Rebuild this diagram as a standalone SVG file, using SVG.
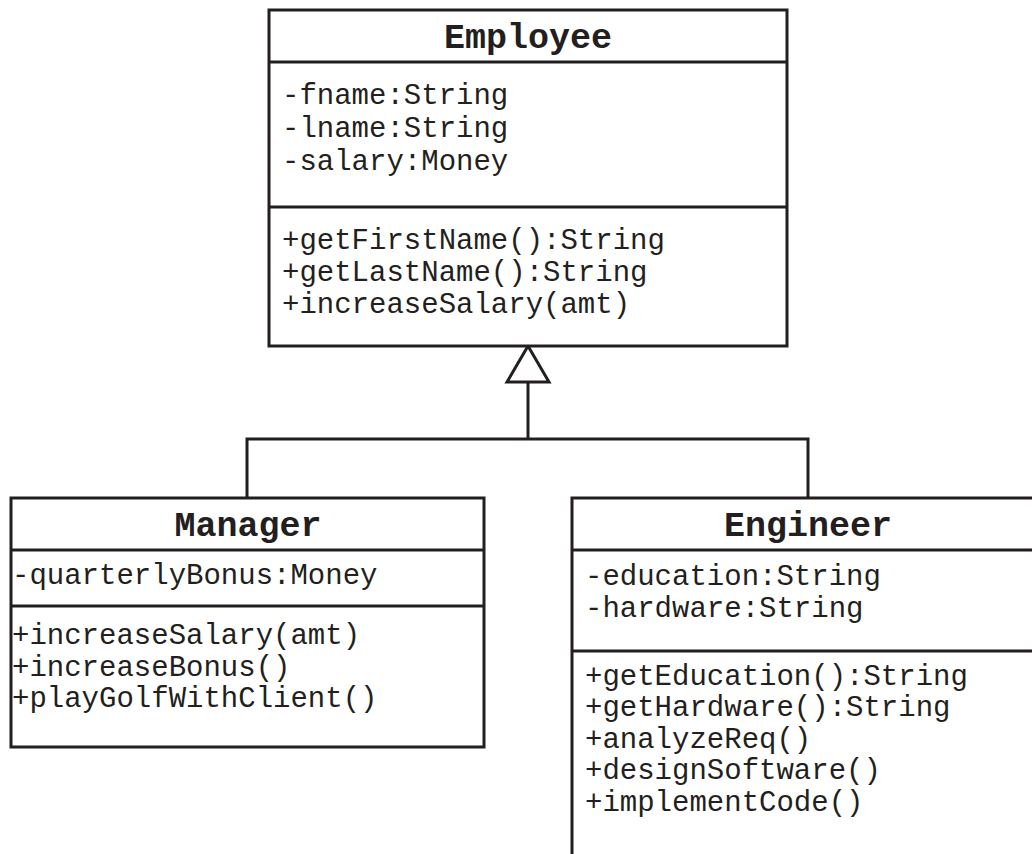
<svg xmlns="http://www.w3.org/2000/svg" width="1032" height="854" viewBox="0 0 1032 854">
  <style>
    .box { fill: #ffffff; stroke: #231f20; stroke-width: 3; }
    .div { stroke: #231f20; stroke-width: 3; }
    .title { font-family: "Liberation Mono", "Courier New", monospace; font-weight: bold; font-size: 35px; fill: #231f20; text-anchor: middle; }
    .mem { font-family: "Liberation Mono", "Courier New", monospace; font-size: 29px; fill: #231f20; }
    .conn { fill: none; stroke: #231f20; stroke-width: 3; }
  </style>
  <rect width="1032" height="854" fill="#ffffff"/>

  <!-- generalization: Manager and Engineer inherit from Employee -->
  <g id="connectors">
    <polyline class="conn" points="247,498 247,439 808,439 808,498"/>
    <line class="conn" x1="528" y1="439" x2="528" y2="382"/>
    <polygon class="conn" fill="#ffffff" points="528,346 507,382 549,382"/>
  </g>

  <g id="employee">
    <rect class="box" x="269" y="10" width="518" height="336"/>
    <line class="div" x1="269" y1="62" x2="787" y2="62"/>
    <line class="div" x1="269" y1="207" x2="787" y2="207"/>
    <text class="title" x="528" y="48">Employee</text>
    <text class="mem" x="282" y="104">-fname:String</text>
    <text class="mem" x="282" y="137">-lname:String</text>
    <text class="mem" x="282" y="170">-salary:Money</text>
    <text class="mem" x="282" y="249">+getFirstName():String</text>
    <text class="mem" x="282" y="281">+getLastName():String</text>
    <text class="mem" x="282" y="313">+increaseSalary(amt)</text>
  </g>

  <g id="manager">
    <rect class="box" x="11" y="498" width="473" height="249"/>
    <line class="div" x1="11" y1="550" x2="484" y2="550"/>
    <line class="div" x1="11" y1="606" x2="484" y2="606"/>
    <text class="title" x="248" y="536">Manager</text>
    <text class="mem" x="12" y="584">-quarterlyBonus:Money</text>
    <text class="mem" x="12" y="644">+increaseSalary(amt)</text>
    <text class="mem" x="12" y="676">+increaseBonus()</text>
    <text class="mem" x="12" y="707">+playGolfWithClient()</text>
  </g>

  <g id="engineer">
    <rect class="box" x="572" y="498" width="472" height="370"/>
    <line class="div" x1="572" y1="550" x2="1044" y2="550"/>
    <line class="div" x1="572" y1="651" x2="1044" y2="651"/>
    <text class="title" x="808" y="536">Engineer</text>
    <text class="mem" x="585" y="585">-education:String</text>
    <text class="mem" x="585" y="617">-hardware:String</text>
    <text class="mem" x="585" y="685">+getEducation():String</text>
    <text class="mem" x="585" y="716">+getHardware():String</text>
    <text class="mem" x="585" y="748">+analyzeReq()</text>
    <text class="mem" x="585" y="779">+designSoftware()</text>
    <text class="mem" x="585" y="811">+implementCode()</text>
  </g>
</svg>
